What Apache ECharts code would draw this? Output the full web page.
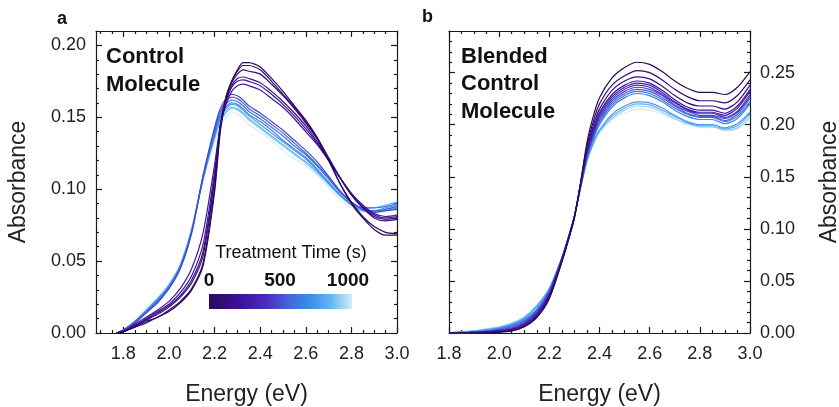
<!DOCTYPE html>
<html><head><meta charset="utf-8">
<script src="https://cdn.jsdelivr.net/npm/echarts@6/dist/echarts.min.js"></script>
<style>html,body{margin:0;padding:0;background:#fff}#c{width:839px;height:407px}</style>
</head><body><div id="c"></div>
<script>
// ---------------- DATA ----------------
// Panel a: Control Molecule
const energyA = [1.77, 1.8, 1.85, 1.9, 1.95, 2.0, 2.05, 2.1, 2.15, 2.2, 2.225, 2.25, 2.275, 2.3, 2.325, 2.35, 2.4, 2.45, 2.5, 2.55, 2.6, 2.65, 2.7, 2.75, 2.8, 2.85, 2.9, 2.95, 3.0];
const timesA = [0, 50, 100, 150, 200, 250, 480, 550, 620, 690, 760, 840, 920, 1000];
const ctrl0  = [0, 0.001, 0.004, 0.007, 0.011, 0.015, 0.021, 0.030, 0.047, 0.098, 0.140, 0.163, 0.175, 0.183, 0.188, 0.188, 0.185, 0.177, 0.168, 0.158, 0.148, 0.136, 0.121, 0.104, 0.090, 0.080, 0.072, 0.068, 0.068];
const ctrl1  = [0, 0.001, 0.004, 0.008, 0.011, 0.016, 0.022, 0.031, 0.049, 0.101, 0.142, 0.164, 0.175, 0.182, 0.186, 0.186, 0.183, 0.175, 0.166, 0.157, 0.147, 0.135, 0.120, 0.104, 0.091, 0.081, 0.074, 0.070, 0.069];
const ctrl2  = [0, 0.001, 0.005, 0.009, 0.013, 0.018, 0.025, 0.035, 0.054, 0.106, 0.144, 0.164, 0.174, 0.180, 0.183, 0.182, 0.180, 0.173, 0.165, 0.156, 0.146, 0.135, 0.122, 0.108, 0.096, 0.087, 0.081, 0.079, 0.080];
const ctrl3  = [0, 0.001, 0.005, 0.009, 0.014, 0.019, 0.026, 0.037, 0.057, 0.108, 0.143, 0.162, 0.172, 0.177, 0.178, 0.177, 0.174, 0.168, 0.161, 0.153, 0.144, 0.133, 0.121, 0.108, 0.097, 0.088, 0.082, 0.080, 0.081];
const ctrl4  = [0, 0.001, 0.005, 0.010, 0.015, 0.020, 0.028, 0.040, 0.062, 0.112, 0.144, 0.161, 0.171, 0.175, 0.176, 0.175, 0.172, 0.166, 0.159, 0.151, 0.142, 0.132, 0.120, 0.108, 0.096, 0.087, 0.080, 0.078, 0.079];
const ctrl5  = [0, 0.001, 0.006, 0.011, 0.016, 0.022, 0.031, 0.045, 0.070, 0.117, 0.144, 0.159, 0.168, 0.172, 0.173, 0.172, 0.169, 0.163, 0.157, 0.149, 0.140, 0.131, 0.120, 0.108, 0.097, 0.089, 0.083, 0.081, 0.082];
const ctrl6  = [0, 0.002, 0.007, 0.014, 0.021, 0.031, 0.045, 0.070, 0.110, 0.143, 0.156, 0.163, 0.166, 0.165, 0.162, 0.158, 0.153, 0.147, 0.141, 0.134, 0.127, 0.119, 0.109, 0.099, 0.091, 0.086, 0.084, 0.085, 0.086];
const ctrl7  = [0, 0.002, 0.007, 0.014, 0.022, 0.031, 0.045, 0.070, 0.109, 0.141, 0.154, 0.161, 0.164, 0.163, 0.160, 0.156, 0.151, 0.145, 0.139, 0.132, 0.125, 0.117, 0.108, 0.098, 0.091, 0.086, 0.085, 0.086, 0.088];
const ctrl8  = [0, 0.002, 0.007, 0.015, 0.022, 0.032, 0.046, 0.071, 0.109, 0.140, 0.152, 0.159, 0.162, 0.161, 0.158, 0.154, 0.149, 0.143, 0.137, 0.130, 0.124, 0.116, 0.107, 0.098, 0.091, 0.087, 0.087, 0.088, 0.090];
const ctrl9  = [0, 0.002, 0.008, 0.015, 0.023, 0.032, 0.046, 0.071, 0.108, 0.138, 0.150, 0.157, 0.160, 0.159, 0.156, 0.152, 0.147, 0.141, 0.134, 0.128, 0.122, 0.114, 0.105, 0.096, 0.089, 0.085, 0.084, 0.085, 0.087];
const ctrl10 = [0, 0.002, 0.008, 0.015, 0.023, 0.033, 0.047, 0.072, 0.108, 0.137, 0.149, 0.156, 0.159, 0.158, 0.155, 0.151, 0.145, 0.139, 0.133, 0.127, 0.121, 0.113, 0.104, 0.096, 0.090, 0.086, 0.085, 0.087, 0.089];
const ctrl11 = [0, 0.002, 0.008, 0.016, 0.024, 0.033, 0.047, 0.072, 0.107, 0.136, 0.147, 0.154, 0.157, 0.156, 0.153, 0.149, 0.143, 0.137, 0.131, 0.125, 0.119, 0.112, 0.104, 0.096, 0.090, 0.087, 0.087, 0.089, 0.091];
const ctrl12 = [0, 0.002, 0.008, 0.016, 0.024, 0.034, 0.048, 0.073, 0.107, 0.135, 0.146, 0.153, 0.156, 0.155, 0.152, 0.148, 0.142, 0.136, 0.130, 0.124, 0.118, 0.111, 0.103, 0.095, 0.089, 0.085, 0.084, 0.086, 0.088];
const ctrl13 = [0, 0.002, 0.008, 0.016, 0.024, 0.034, 0.048, 0.073, 0.106, 0.133, 0.143, 0.150, 0.153, 0.152, 0.149, 0.145, 0.140, 0.134, 0.127, 0.121, 0.116, 0.110, 0.101, 0.093, 0.087, 0.084, 0.083, 0.085, 0.088];

// Panel b: Blended Control Molecule
const energyB = [1.8, 1.85, 1.9, 1.95, 2.0, 2.05, 2.1, 2.15, 2.2, 2.25, 2.275, 2.3, 2.325, 2.35, 2.375, 2.4, 2.45, 2.5, 2.55, 2.6, 2.65, 2.7, 2.75, 2.8, 2.85, 2.9, 2.95, 3.0];
const timesB = [0, 80, 160, 240, 320, 400, 470, 540, 610, 680, 760, 840, 920, 1000];
const blend0  = [0, 0, 0, 0, 0.001, 0.002, 0.006, 0.015, 0.033, 0.068, 0.088, 0.110, 0.145, 0.183, 0.208, 0.226, 0.245, 0.255, 0.260, 0.258, 0.251, 0.242, 0.235, 0.231, 0.231, 0.229, 0.236, 0.251];
const blend1  = [0, 0, 0, 0, 0.001, 0.002, 0.006, 0.015, 0.034, 0.069, 0.089, 0.111, 0.145, 0.180, 0.203, 0.220, 0.238, 0.247, 0.252, 0.250, 0.243, 0.234, 0.227, 0.223, 0.223, 0.221, 0.228, 0.243];
const blend2  = [0, 0, 0, 0.001, 0.001, 0.003, 0.007, 0.016, 0.035, 0.069, 0.089, 0.111, 0.144, 0.177, 0.199, 0.215, 0.233, 0.242, 0.246, 0.244, 0.237, 0.228, 0.221, 0.218, 0.218, 0.215, 0.222, 0.238];
const blend3  = [0, 0, 0, 0.001, 0.002, 0.003, 0.008, 0.017, 0.036, 0.070, 0.090, 0.112, 0.144, 0.175, 0.196, 0.212, 0.229, 0.238, 0.242, 0.240, 0.233, 0.224, 0.217, 0.214, 0.214, 0.211, 0.218, 0.234];
const blend4  = [0, 0, 0, 0.001, 0.002, 0.004, 0.008, 0.018, 0.037, 0.070, 0.090, 0.112, 0.143, 0.174, 0.194, 0.210, 0.227, 0.236, 0.240, 0.238, 0.231, 0.222, 0.215, 0.212, 0.212, 0.209, 0.216, 0.232];
const blend5  = [0, 0, 0.001, 0.001, 0.002, 0.004, 0.009, 0.019, 0.038, 0.071, 0.090, 0.112, 0.142, 0.172, 0.192, 0.208, 0.225, 0.234, 0.238, 0.236, 0.229, 0.221, 0.214, 0.211, 0.211, 0.207, 0.213, 0.229];
const blend6  = [0, 0, 0.001, 0.001, 0.003, 0.005, 0.010, 0.020, 0.039, 0.071, 0.090, 0.112, 0.142, 0.171, 0.190, 0.206, 0.223, 0.232, 0.236, 0.234, 0.228, 0.219, 0.213, 0.209, 0.209, 0.206, 0.212, 0.227];
const blend7  = [0, 0, 0.001, 0.002, 0.003, 0.006, 0.011, 0.021, 0.040, 0.072, 0.091, 0.112, 0.141, 0.170, 0.189, 0.204, 0.221, 0.230, 0.234, 0.232, 0.226, 0.218, 0.211, 0.208, 0.208, 0.204, 0.210, 0.225];
const blend8  = [0, 0, 0.001, 0.002, 0.004, 0.007, 0.012, 0.022, 0.040, 0.072, 0.091, 0.112, 0.141, 0.169, 0.187, 0.202, 0.219, 0.228, 0.232, 0.230, 0.224, 0.216, 0.210, 0.207, 0.207, 0.203, 0.208, 0.222];
const blend9  = [0, 0, 0.001, 0.002, 0.004, 0.007, 0.013, 0.023, 0.041, 0.072, 0.091, 0.112, 0.140, 0.168, 0.186, 0.200, 0.217, 0.226, 0.230, 0.228, 0.222, 0.214, 0.208, 0.205, 0.205, 0.201, 0.206, 0.220];
const blend10 = [0, 0.001, 0.001, 0.003, 0.005, 0.008, 0.014, 0.025, 0.042, 0.072, 0.091, 0.112, 0.140, 0.166, 0.183, 0.195, 0.210, 0.218, 0.222, 0.221, 0.216, 0.209, 0.203, 0.200, 0.200, 0.197, 0.201, 0.212];
const blend11 = [0, 0.001, 0.002, 0.003, 0.005, 0.009, 0.015, 0.026, 0.043, 0.072, 0.091, 0.113, 0.140, 0.165, 0.182, 0.194, 0.208, 0.216, 0.220, 0.219, 0.214, 0.208, 0.202, 0.199, 0.199, 0.196, 0.199, 0.210];
const blend12 = [0, 0.001, 0.002, 0.004, 0.006, 0.009, 0.015, 0.026, 0.043, 0.072, 0.091, 0.113, 0.140, 0.165, 0.182, 0.193, 0.206, 0.214, 0.218, 0.217, 0.212, 0.206, 0.201, 0.198, 0.198, 0.195, 0.197, 0.207];
const blend13 = [0, 0.001, 0.002, 0.004, 0.006, 0.010, 0.016, 0.027, 0.044, 0.072, 0.091, 0.113, 0.140, 0.165, 0.180, 0.192, 0.205, 0.211, 0.215, 0.214, 0.210, 0.205, 0.200, 0.198, 0.198, 0.194, 0.196, 0.205];

// Tick labels
const xMajorTicks = [1.8, 2.0, 2.2, 2.4, 2.6, 2.8, 3.0];
const yMajorA = [0, 0.05, 0.10, 0.15, 0.20];
const yMajorB = [0, 0.05, 0.10, 0.15, 0.20, 0.25];
const colorbarLabels = ['0', '500', '1000'];

// ---------------- STYLE / BUILD ----------------
const ctrlCurves = [ctrl0, ctrl1, ctrl2, ctrl3, ctrl4, ctrl5, ctrl6, ctrl7, ctrl8, ctrl9, ctrl10, ctrl11, ctrl12, ctrl13];
const blendCurves = [blend0, blend1, blend2, blend3, blend4, blend5, blend6, blend7, blend8, blend9, blend10, blend11, blend12, blend13];

const cmapStops = [
  [0.0, '#2b0a5a'], [0.2, '#3d0f95'], [0.4, '#4a2cc0'], [0.55, '#4462d8'],
  [0.7, '#3c8ce8'], [0.85, '#62b6f2'], [1.0, '#d4edfa']
];
function hex2rgb(h){return [parseInt(h.slice(1,3),16),parseInt(h.slice(3,5),16),parseInt(h.slice(5,7),16)];}
function cmap(f){
  for (let i=1;i<cmapStops.length;i++){
    if (f<=cmapStops[i][0]){
      const [f0,c0]=cmapStops[i-1],[f1,c1]=cmapStops[i];
      const u=(f-f0)/(f1-f0), a=hex2rgb(c0), b=hex2rgb(c1);
      return 'rgb('+a.map((v,k)=>Math.round(v+(b[k]-v)*u)).join(',')+')';
    }
  }
  return cmapStops[cmapStops.length-1][1];
}
function range(a,b,s){const r=[];for(let v=a;v<=b+1e-9;v+=s)r.push(+v.toFixed(3));return r;}
const xMinorA = range(1.70, 3.0, 0.05).filter(v=>!xMajorTicks.some(m=>Math.abs(m-v)<1e-6));
const xMinorB = range(1.85, 2.95, 0.05).filter(v=>!xMajorTicks.some(m=>Math.abs(m-v)<1e-6));
const yMinorA = range(0.01, 0.20, 0.01).filter(v=>!yMajorA.some(m=>Math.abs(m-v)<1e-6));
const yMinorB = range(0.01, 0.28, 0.01).filter(v=>!yMajorB.some(m=>Math.abs(m-v)<1e-6));

const FONT = '"Liberation Sans", Arial, sans-serif';
const lineStyle = {color: '#1a1a1a', width: 1.2};

function xAx(grid, min, max, pos, ticks, len, showLine, labels, name){
  return {
    type: 'value', gridIndex: grid, min, max, position: pos,
    axisLine: {show: showLine, onZero: false, lineStyle},
    axisTick: {show: true, inside: true, length: len, customValues: ticks, lineStyle},
    axisLabel: labels ? {show: true, customValues: ticks, formatter: v => v.toFixed(1), fontSize: 18, color: '#222', margin: 12, fontFamily: FONT} : {show: false},
    splitLine: {show: false},
    name: name || '', nameLocation: 'middle', nameGap: 50,
    nameTextStyle: {fontSize: 23, color: '#222', fontFamily: FONT}
  };
}
function yAx(grid, min, max, pos, ticks, len, showLine, labels, name, gap){
  return {
    type: 'value', gridIndex: grid, min, max, position: pos,
    axisLine: {show: showLine, onZero: false, lineStyle},
    axisTick: {show: true, inside: true, length: len, customValues: ticks, lineStyle},
    axisLabel: labels ? {show: true, customValues: ticks, formatter: v => v.toFixed(2), fontSize: 18, color: '#222', margin: 10, fontFamily: FONT} : {show: false},
    splitLine: {show: false},
    name: name || '', nameLocation: 'middle', nameGap: gap || 60, nameRotate: 90,
    nameTextStyle: {fontSize: 23, color: '#222', fontFamily: FONT}
  };
}

const xAxes = [
  xAx(0, 1.68, 3.0, 'bottom', xMajorTicks, 6, true, true, 'Energy (eV)'),
  xAx(0, 1.68, 3.0, 'bottom', xMinorA, 3, false, false),
  xAx(0, 1.68, 3.0, 'top', xMajorTicks, 6, true, false),
  xAx(0, 1.68, 3.0, 'top', xMinorA, 3, false, false),
  xAx(1, 1.8, 3.0, 'bottom', xMajorTicks, 6, true, true, 'Energy (eV)'),
  xAx(1, 1.8, 3.0, 'bottom', xMinorB, 3, false, false),
  xAx(1, 1.8, 3.0, 'top', xMajorTicks, 6, true, false),
  xAx(1, 1.8, 3.0, 'top', xMinorB, 3, false, false)
];
const yAxes = [
  yAx(0, 0, 0.21, 'left', yMajorA, 6, true, true, 'Absorbance', 66),
  yAx(0, 0, 0.21, 'left', yMinorA, 3, false, false),
  yAx(0, 0, 0.21, 'right', yMajorA, 6, true, false),
  yAx(0, 0, 0.21, 'right', yMinorA, 3, false, false),
  yAx(1, 0, 0.29, 'right', yMajorB, 6, true, true, 'Absorbance', 68),
  yAx(1, 0, 0.29, 'right', yMinorB, 3, false, false),
  yAx(1, 0, 0.29, 'left', yMajorB, 6, true, false),
  yAx(1, 0, 0.29, 'left', yMinorB, 3, false, false)
];

const series = [];
ctrlCurves.forEach((vals, i) => {
  series.push({
    type: 'line', xAxisIndex: 0, yAxisIndex: 0, showSymbol: false, silent: true,
    smooth: 0.25,
    lineStyle: {width: 1.2, color: cmap(timesA[i] / 1000)},
    data: energyA.map((e, k) => [e, vals[k]]), z: 20 - i
  });
});
blendCurves.forEach((vals, i) => {
  series.push({
    type: 'line', xAxisIndex: 4, yAxisIndex: 4, showSymbol: false, silent: true,
    smooth: 0.25,
    lineStyle: {width: 1.2, color: cmap(timesB[i] / 1000)},
    data: energyB.map((e, k) => [e, vals[k]]), z: 20 - i
  });
});

const boldText = {fontFamily: FONT, fontWeight: 'bold', fill: '#111'};
const graphic = [
  {type: 'text', left: 57, top: 10, style: Object.assign({text: 'a', fontSize: 18}, boldText)},
  {type: 'text', left: 422, top: 8, style: Object.assign({text: 'b', fontSize: 18}, boldText)},
  {type: 'text', left: 106, top: 43, style: Object.assign({text: 'Control\nMolecule', fontSize: 22, lineHeight: 28}, boldText)},
  {type: 'text', left: 461, top: 43, style: Object.assign({text: 'Blended\nControl\nMolecule', fontSize: 22, lineHeight: 27.5}, boldText)},
  {type: 'text', x: 291, y: 253, style: {text: 'Treatment Time (s)', fontSize: 18, fontFamily: FONT, fill: '#111', align: 'center', verticalAlign: 'middle'}},
  {type: 'text', x: 209, y: 281, style: {text: colorbarLabels[0], fontSize: 19, fontFamily: FONT, fontWeight: 'bold', fill: '#111', align: 'center', verticalAlign: 'middle'}},
  {type: 'text', x: 280, y: 281, style: {text: colorbarLabels[1], fontSize: 19, fontFamily: FONT, fontWeight: 'bold', fill: '#111', align: 'center', verticalAlign: 'middle'}},
  {type: 'text', x: 348, y: 281, style: {text: colorbarLabels[2], fontSize: 19, fontFamily: FONT, fontWeight: 'bold', fill: '#111', align: 'center', verticalAlign: 'middle'}},
  {type: 'rect', shape: {x: 209, y: 294, width: 143, height: 15},
   style: {fill: new echarts.graphic.LinearGradient(0, 0, 1, 0, cmapStops.map(s => ({offset: s[0], color: s[1]})))}}
];

const chart = echarts.init(document.getElementById('c'), null, {renderer: 'canvas'});
chart.setOption({
  animation: false,
  backgroundColor: '#fff',
  grid: [
    {left: 96, top: 31, width: 301, height: 302, outerBoundsMode: 'none', containLabel: false},
    {left: 449, top: 31, width: 301, height: 302, outerBoundsMode: 'none', containLabel: false}
  ],
  xAxis: xAxes,
  yAxis: yAxes,
  series,
  graphic
});
</script></body></html>
